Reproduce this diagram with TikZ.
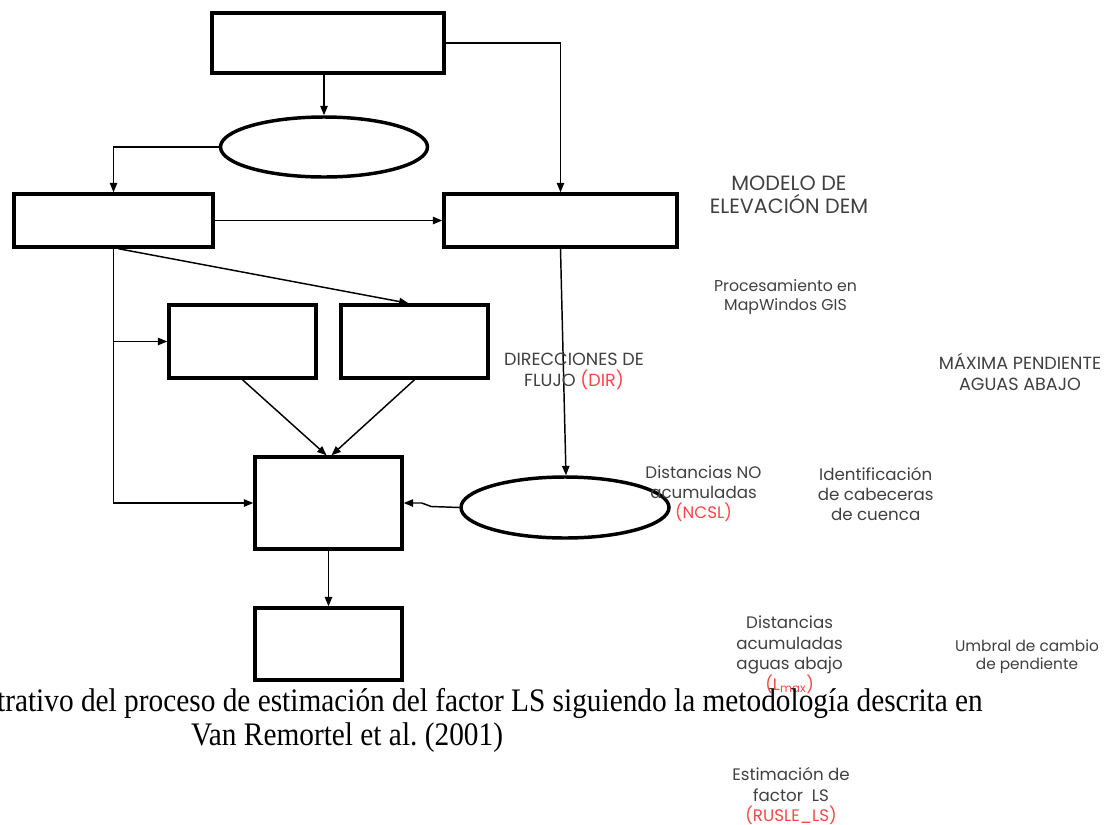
\documentclass[tikz,border=0pt]{standalone}
\usepackage{graphicx}
\usepackage{fontspec}
\setmainfont{Liberation Serif}
\newfontfamily\gothic{Poppins}
\usetikzlibrary{arrows.meta,shapes.geometric,calc}
\definecolor{txtgray}{RGB}{64,64,64}
\definecolor{txtred}{RGB}{250,70,70}
\frenchspacing
\begin{document}
\begin{tikzpicture}[x=0.75pt,y=-0.75pt,
  box/.style={draw,rectangle,line width=2.6pt,inner sep=0pt},
  ell/.style={draw,ellipse,line width=2.6pt,inner sep=0pt},
  arr/.style={line width=1.1pt,-{Triangle[length=7pt,width=5.5pt]}},
  lbl/.style={text=txtgray,align=center,inner sep=0pt},
  captext/.style={font=\fontsize{22}{26}\selectfont,inner sep=0pt}]
\useasboundingbox (0,0) rectangle (1118,825);

% shapes
\node[box,minimum width=174pt,minimum height=45pt] (top) at (328,43) {};
\node[ell,minimum width=155.25pt,minimum height=45pt] (ell1) at (324,147) {};
\node[box,minimum width=149.25pt,minimum height=39.75pt] (boxA) at (113.5,220.5) {};
\node[box,minimum width=174.75pt,minimum height=39.75pt] (boxB) at (560.5,220.5) {};
\node[box,minimum width=110.25pt,minimum height=54.75pt] (boxC) at (242.5,341.5) {};
\node[box,minimum width=110.25pt,minimum height=54.75pt] (boxD) at (414.5,341.5) {};
\node[box,minimum width=110.25pt,minimum height=69pt] (boxE) at (328.5,503) {};
\node[box,minimum width=110.25pt,minimum height=54pt] (boxF) at (328.5,644) {};
\node[ell,minimum width=156pt,minimum height=45.75pt] (ell2) at (565,507.5) {};

% connectors
\draw[arr] (ell1.north |- top.south) -- (ell1.north);
\draw[arr] (ell1.west) -| (boxA.north);
\draw[arr] (boxA.east) -- (boxB.west);
\draw[arr] (top.east) -| (boxB.north);
\draw[arr] (boxA.south) |- (boxE.west);
\draw[arr] (boxA.south |- boxC.west) -- (boxC.west);
\draw[arr] ($(boxA.south)+(5,0)$) -- ($(boxD.north)+(-6,0)$);
\draw[arr] (boxC.south) -- ($(boxE.north)+(-2,0)$);
\draw[arr] (boxD.south) -- ($(boxE.north)+(3,0)$);
\draw[arr] (boxB.south) -- ($(ell2.north)+(1,0)$);
\draw[arr] (ell2.west) -- ++(-28,-1) to[out=180,in=0] ($(boxE.east)+(18,0)$) -- (boxE.east);
\draw[arr] (boxE.south) -- (boxF.north);

% labels
\node[lbl,font=\gothic\fontsize{15.5}{17}\selectfont] (t1) at (789,195) {MODELO DE\\ELEVACIÓN DEM};
\node[lbl,font=\gothic\fontsize{11.8}{13.9}\selectfont] (t2) at (785.5,297) {Procesamiento en\\MapWindos GIS};
\node[lbl,font=\gothic\fontsize{13.2}{15.75}\selectfont] (t3) at (574,371.5) {DIRECCIONES DE\\FLUJO \textcolor{txtred}{(DIR)}};
\node[lbl,font=\gothic\fontsize{13.2}{15.75}\selectfont] (t4) at (1020,371.5) {MÁXIMA PENDIENTE\\AGUAS ABAJO};
\node[lbl,font=\gothic\fontsize{12.5}{15}\selectfont] (t5) at (703.5,493.5) {Distancias NO\\acumuladas\\\textcolor{txtred}{(NCSL)}};
\node[lbl,font=\gothic\fontsize{12.5}{15}\selectfont] (t6) at (875.7,493.5) {Identificación\\de cabeceras\\de cuenca};
\node[lbl,font=\gothic\fontsize{12.5}{15.4}\selectfont] (t7) at (789.6,654.5) {Distancias\\acumuladas\\aguas abajo\\\textcolor{txtred}{(L\textsubscript{max})}};
\node[lbl,font=\gothic\fontsize{11.5}{13.5}\selectfont] (t8) at (1027,657) {Umbral de cambio\\de pendiente};
\node[lbl,font=\gothic\fontsize{12.5}{15.5}\selectfont] (t9) at (791,796) {Estimación de\\factor~ LS\\\textcolor{txtred}{(RUSLE\_LS)}};

% caption
\node[captext,anchor=base east] (c1) at (983,711) {\scalebox{1}[1.12]{trativo del proceso de estimación del factor LS siguiendo la metodología descrita en}};
\node[captext,anchor=base] (c2) at (347,745) {\scalebox{1}[1.12]{Van Remortel et al. (2001)}};
\end{tikzpicture}
\end{document}
